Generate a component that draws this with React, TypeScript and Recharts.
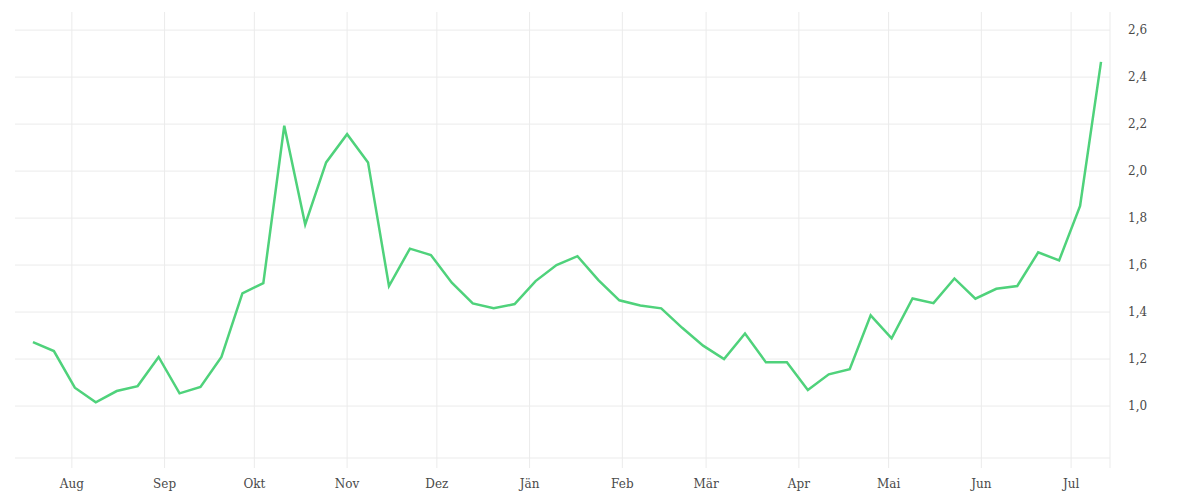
import React from 'react';
import { LineChart, Line, XAxis, YAxis, CartesianGrid } from 'recharts';

const weekDates = [
  '2021-07-19', '2021-07-26', '2021-08-02', '2021-08-09', '2021-08-16', '2021-08-23', '2021-08-30',
  '2021-09-06', '2021-09-13', '2021-09-20', '2021-09-27', '2021-10-04', '2021-10-11', '2021-10-18',
  '2021-10-25', '2021-11-01', '2021-11-08', '2021-11-15', '2021-11-22', '2021-11-29', '2021-12-06',
  '2021-12-13', '2021-12-20', '2021-12-27', '2022-01-03', '2022-01-10', '2022-01-17', '2022-01-24',
  '2022-01-31', '2022-02-07', '2022-02-14', '2022-02-21', '2022-02-28', '2022-03-07', '2022-03-14',
  '2022-03-21', '2022-03-28', '2022-04-04', '2022-04-11', '2022-04-18', '2022-04-25', '2022-05-02',
  '2022-05-09', '2022-05-16', '2022-05-23', '2022-05-30', '2022-06-06', '2022-06-13', '2022-06-20',
  '2022-06-27', '2022-07-04', '2022-07-11',
];

const values = [
  1.272, 1.234, 1.078, 1.016, 1.064, 1.085, 1.209,
  1.054, 1.081, 1.209, 1.48, 1.523, 2.193, 1.773,
  2.037, 2.157, 2.037, 1.511, 1.67, 1.643, 1.525,
  1.437, 1.416, 1.434, 1.532, 1.6, 1.638, 1.536,
  1.45, 1.428, 1.416, 1.333, 1.257, 1.2, 1.309,
  1.186, 1.186, 1.068, 1.135, 1.157, 1.386, 1.288,
  1.458, 1.438, 1.543, 1.457, 1.499, 1.511, 1.654,
  1.62, 1.852, 2.465,
];

const monthTickDates = [
  '2021-08-01', '2021-09-01', '2021-10-01', '2021-11-01', '2021-12-01', '2022-01-01',
  '2022-02-01', '2022-03-01', '2022-04-01', '2022-05-01', '2022-06-01', '2022-07-01',
];
const monthLabels = ['Aug', 'Sep', 'Okt', 'Nov', 'Dez', 'Jän', 'Feb', 'Mär', 'Apr', 'Mai', 'Jun', 'Jul'];

const xDomainDates = ['2021-07-13', '2022-07-14'];
const yTicks = [1.0, 1.2, 1.4, 1.6, 1.8, 2.0, 2.2, 2.4, 2.6];
const yDomain = [0.779, 2.677];

const toTs = (s: string) => new Date(s + 'T00:00:00Z').getTime();

const data = weekDates.map((d, i) => ({ t: toTs(d), v: values[i] }));
const monthTicks = monthTickDates.map(toTs);
const xDomain = xDomainDates.map(toTs);
const xTicks = [...monthTicks, xDomain[1]];

const labelFor = (t: number) => {
  const idx = monthTicks.indexOf(t);
  return idx >= 0 ? monthLabels[idx] : '';
};

const GRID = '#ebebeb';
const FONT = '"DejaVu Serif", serif';

export default function App() {
  return (
    <div style={{ position: 'absolute', left: 0, top: 0, width: 1200, height: 500, background: '#fff' }}>
      <LineChart width={1200} height={500} data={data} margin={{ top: 12, left: 15, right: 30, bottom: 0 }}>
        <CartesianGrid stroke={GRID} strokeWidth={1} syncWithTicks />
        <XAxis
          dataKey="t"
          type="number"
          scale="time"
          domain={xDomain}
          ticks={xTicks}
          tickFormatter={labelFor}
          axisLine={{ stroke: GRID }}
          tickLine={{ stroke: GRID }}
          tickSize={10}
          tickMargin={11}
          height={42}
          interval={0}
          tick={{ fill: '#4a4a4a', fontSize: 12, fontFamily: FONT }}
        />
        <YAxis
          orientation="right"
          type="number"
          domain={yDomain}
          ticks={yTicks}
          allowDataOverflow
          width={60}
          axisLine={false}
          tickLine={false}
          tickSize={6}
          tickMargin={12}
          tickFormatter={(v: number) => v.toFixed(1).replace('.', ',')}
          tick={{ fill: '#4a4a4a', fontSize: 12, fontFamily: FONT, textAnchor: 'start' }}
        />
        <Line
          type="linear"
          dataKey="v"
          stroke="#4fd27b"
          strokeWidth={2.5}
          dot={false}
          activeDot={false}
          isAnimationActive={false}
        />
      </LineChart>
    </div>
  );
}
